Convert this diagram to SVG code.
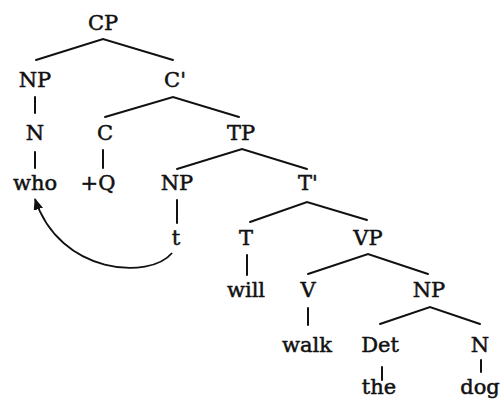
<svg xmlns="http://www.w3.org/2000/svg" width="502" height="407" viewBox="0 0 502 407">
  <style>
    text { font-family: "DejaVu Serif", "Liberation Serif", serif; font-size: 21px; fill: #111; stroke: #111; stroke-width: 0.5; text-anchor: middle; }
    .edge { stroke: #111; stroke-width: 2; fill: none; stroke-linecap: round; }
    .move { stroke: #111; stroke-width: 1.8; fill: none; }
  </style>
  <defs>
    <marker id="head" viewBox="0 0 12 10" refX="11" refY="5" markerWidth="6.5" markerHeight="5.5" markerUnits="strokeWidth" orient="auto">
      <path d="M0,0 L12,5 L0,10 Z" fill="#111"/>
    </marker>
  </defs>

  <rect width="502" height="407" fill="#fff"/>

  <!-- branches of the tree -->
  <g id="connectors">
    <path class="edge" d="M36,60 L103,39 L173,60"/>
    <path class="edge" d="M105,117 L173,97 L239,117"/>
    <path class="edge" d="M177,169 L242,149 L307,169"/>
    <path class="edge" d="M250,222 L307,202 L367,220"/>
    <path class="edge" d="M308,274 L368,254 L428,274"/>
    <path class="edge" d="M380,324 L430,307 L480,324"/>
    <line class="edge" x1="35" y1="97" x2="35" y2="113"/>
    <line class="edge" x1="35" y1="152" x2="35" y2="168"/>
    <line class="edge" x1="103" y1="150" x2="103" y2="168"/>
    <line class="edge" x1="177" y1="200" x2="177" y2="223"/>
    <line class="edge" x1="247" y1="255" x2="247" y2="275"/>
    <line class="edge" x1="308" y1="308" x2="308" y2="325"/>
    <line class="edge" x1="382" y1="367" x2="382" y2="380"/>
    <line class="edge" x1="481" y1="360" x2="481" y2="372"/>
    <!-- movement of the trace to the wh-word -->
    <path class="move" d="M172,253 C150,280 60,275 35,199" marker-end="url(#head)"/>
  </g>

  <g id="CP"><text x="103" y="30">CP</text></g>
  <g id="NP-who"><text x="35" y="87">NP</text></g>
  <g id="Cbar"><text x="175" y="87">C'</text></g>
  <g id="N-who"><text x="35" y="140">N</text></g>
  <g id="C"><text x="105" y="140">C</text></g>
  <g id="TP"><text x="241" y="140">TP</text></g>
  <g id="who"><text x="35" y="190">who</text></g>
  <g id="Q"><text x="98" y="190">+Q</text></g>
  <g id="NP-trace"><text x="177" y="190">NP</text></g>
  <g id="Tbar"><text x="308" y="190">T'</text></g>
  <g id="trace"><text x="176" y="245">t</text></g>
  <g id="T"><text x="246" y="245">T</text></g>
  <g id="VP"><text x="368" y="245">VP</text></g>
  <g id="will"><text x="246" y="297">will</text></g>
  <g id="V"><text x="308" y="297">V</text></g>
  <g id="NP-obj"><text x="429" y="297">NP</text></g>
  <g id="walk"><text x="307" y="352">walk</text></g>
  <g id="Det"><text x="380" y="352">Det</text></g>
  <g id="N-dog"><text x="480" y="352">N</text></g>
  <g id="the"><text x="379" y="394">the</text></g>
  <g id="dog"><text x="480" y="394">dog</text></g>
</svg>
